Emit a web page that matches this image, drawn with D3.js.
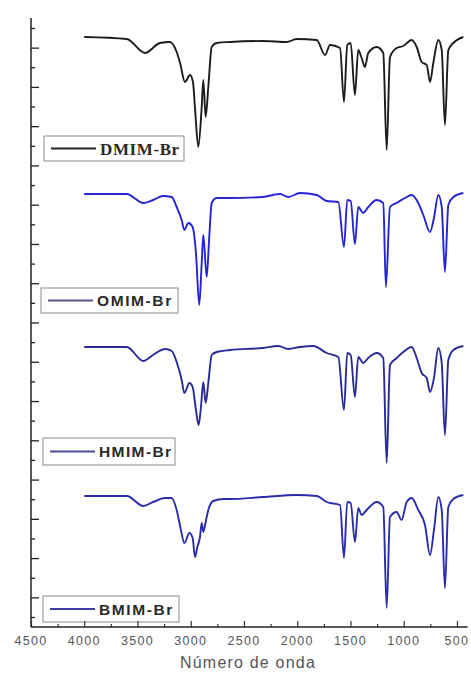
<!DOCTYPE html>
<html><head><meta charset="utf-8">
<script src="https://cdn.jsdelivr.net/npm/d3@7"></script>
<style>body{margin:0;background:#fff}svg{display:block}</style>
</head><body><div id="chart"></div>
<script>
// ---- DATA (wavenumber cm-1, transmittance a.u.) ----
const seriesNames = ["DMIM-Br", "OMIM-Br", "HMIM-Br", "BMIM-Br"];
const xTicks = [4500, 4000, 3500, 3000, 2500, 2000, 1500, 1000, 500];
const xLabel = "Número de onda";

const dmimWn = [4000,3601,3430,3289,3195,3132,3100,3054,3007,2979,2960,2929,2897,2882,2860,2835,2803,2756,2631,2319,2099,2005,1817,1739,1692,1598,1561,1530,1498,1458,1427,1395,1364,1333,1254,1192,1160,1129,1066,1004,925,878,831,784,753,722,675,643,613,581,534,440];
const dmimT  = [123,121,107,117,118,108,97,78,85,78,52,13,53,80,43,73,113,117,118,119,118,121,120,105,115,112,58,115,117,65,110,102,93,107,113,107,10,103,112,114,120,113,98,95,78,97,120,110,35,110,117,123];

const omimWn = [4000,3601,3445,3354,3260,3179,3132,3085,3060,3023,2982,2951,2920,2897,2882,2850,2826,2803,2756,2631,2322,2162,2084,1974,1817,1723,1614,1561,1530,1498,1458,1427,1380,1333,1254,1192,1167,1129,1051,988,925,863,816,753,716,675,643,613,581,534,440];
const omimT  = [116,116,107,110,114,113,103,90,80,87,83,57,5,47,75,33,73,107,112,112,113,116,113,117,115,109,108,63,110,109,66,103,97,103,110,107,23,103,108,112,115,107,95,78,92,115,103,38,105,113,117];

const hmimWn = [4000,3601,3445,3354,3242,3179,3132,3085,3060,3013,2982,2951,2926,2904,2882,2860,2835,2803,2756,2631,2322,2178,2084,1974,1849,1723,1614,1561,1530,1498,1458,1427,1380,1333,1254,1192,1160,1129,1066,1004,925,878,831,784,753,716,675,643,613,581,534,440];
const hmimT  = [123,123,109,115,121,119,108,90,77,87,83,60,45,63,88,67,87,115,118,120,122,124,121,123,124,117,113,60,117,115,73,113,107,112,117,112,7,105,112,118,123,112,97,92,78,92,122,107,35,110,120,124];

const bmimWn = [4000,3601,3445,3354,3242,3179,3132,3092,3060,3013,2982,2960,2938,2913,2897,2882,2860,2835,2788,2694,2631,2322,2005,1817,1723,1598,1561,1530,1498,1458,1427,1395,1348,1254,1192,1160,1129,1066,1020,972,925,863,800,753,716,675,643,613,581,534,440];
const bmimT  = [124,124,114,118,122,122,110,90,77,87,82,63,73,83,97,88,98,110,119,121,121,123,125,124,118,115,62,118,117,78,112,105,110,118,113,12,103,108,100,118,122,110,95,65,90,123,110,32,113,121,125];

// ---- LAYOUT / STYLE ----
const W = 471, H = 681;
const x0 = 31, x1 = 467.6, axisTop = 18, axisBottom = 627;
const panelBottoms = [160, 310, 470, 620];
const lineColors = ["#1c1c1c", "#2424d6", "#2a2a96", "#2b2bae"];
const legendLineColors = ["#222", "#55558c", "#4a4a96", "#3c3ca4"];
const legendBoxes = [
  {x:44, y:136, w:140, h:25, fam:"'Liberation Serif', 'Times New Roman', serif", fs:17, ls:0.6},
  {x:41, y:288, w:137, h:25, fam:"'Liberation Sans', Arial, sans-serif", fs:15.5, ls:1.6},
  {x:43, y:438, w:132, h:27, fam:"'Liberation Sans', Arial, sans-serif", fs:15.5, ls:1.4},
  {x:43, y:596, w:136, h:26, fam:"'Liberation Sans', Arial, sans-serif", fs:15.5, ls:1.6}
];

const svg = d3.select("#chart").append("svg").attr("width", W).attr("height", H);

const x = d3.scaleLinear().domain([4500, 400]).range([x0, x1]);

const data = [
  d3.zip(dmimWn, dmimT), d3.zip(omimWn, omimT),
  d3.zip(hmimWn, hmimT), d3.zip(bmimWn, bmimT)
];

data.forEach((pts, i) => {
  const y = d3.scaleLinear().domain([0, 130]).range([panelBottoms[i], panelBottoms[i] - 130]);
  const line = d3.line().x(d => x(d[0])).y(d => y(d[1])).curve(d3.curveMonotoneX);
  svg.append("path").datum(pts)
    .attr("d", line).attr("fill", "none")
    .attr("stroke", lineColors[i]).attr("stroke-width", 1.9)
    .attr("stroke-linejoin", "round");
});

// Legends
legendBoxes.forEach((b, i) => {
  const g = svg.append("g");
  g.append("rect").attr("x", b.x).attr("y", b.y).attr("width", b.w).attr("height", b.h)
    .attr("fill", "#fff").attr("stroke", "#8a8a8a").attr("stroke-width", 1);
  const cy = b.y + b.h / 2;
  g.append("line").attr("x1", b.x + 7).attr("x2", b.x + 52).attr("y1", cy).attr("y2", cy)
    .attr("stroke", legendLineColors[i]).attr("stroke-width", 2.2);
  g.append("text").attr("x", b.x + 56).attr("y", cy + b.fs * 0.36)
    .attr("font-family", b.fam).attr("font-size", b.fs).attr("font-weight", "bold")
    .attr("letter-spacing", b.ls).attr("fill", "#2a2a2a").text(seriesNames[i]);
});

// Y axis (no labels, alternating tick lengths)
const yAx = d3.scaleLinear().domain([0, 30]).range([617, 28]);
const yMinor = d3.range(0, 31, 2), yMajor = d3.range(1, 31, 2);
svg.append("g").attr("transform", `translate(${x0},0)`)
  .call(d3.axisRight(yAx).tickValues(yMinor).tickSize(4).tickFormat(""))
  .call(g => g.select(".domain").remove())
  .selectAll("line").attr("stroke", "#222").attr("stroke-width", 1.3);
svg.append("g").attr("transform", `translate(${x0},0)`)
  .call(d3.axisRight(yAx).tickValues(yMajor).tickSize(8).tickFormat(""))
  .call(g => g.select(".domain").remove())
  .selectAll("line").attr("stroke", "#222").attr("stroke-width", 1.3);
svg.append("line").attr("x1", x0).attr("x2", x0).attr("y1", axisTop).attr("y2", axisBottom)
  .attr("stroke", "#222").attr("stroke-width", 1.5);

// X axis
const xMinor = d3.range(4250, 400, -500);
const gx = svg.append("g").attr("transform", `translate(0,${axisBottom})`);
gx.call(d3.axisTop(x).tickValues(xTicks).tickSize(6).tickFormat(""))
  .call(g => g.select(".domain").remove())
  .selectAll("line").attr("stroke", "#333").attr("stroke-width", 1.2);
svg.append("g").attr("transform", `translate(0,${axisBottom})`)
  .call(d3.axisTop(x).tickValues(xMinor).tickSize(3).tickFormat(""))
  .call(g => g.select(".domain").remove())
  .selectAll("line").attr("stroke", "#333").attr("stroke-width", 1.2);
svg.append("line").attr("x1", x0).attr("x2", x1).attr("y1", axisBottom).attr("y2", axisBottom)
  .attr("stroke", "#222").attr("stroke-width", 1.5);

svg.append("g").selectAll("text").data(xTicks).join("text")
  .attr("x", d => x(d)).attr("y", 645)
  .attr("text-anchor", "middle")
  .attr("font-family", "'Liberation Sans', Arial, sans-serif")
  .attr("font-size", 12.5).attr("letter-spacing", 1.3).attr("fill", "#555")
  .text(d => d);

svg.append("text").attr("x", 248).attr("y", 668).attr("text-anchor", "middle")
  .attr("font-family", "'Liberation Sans', Arial, sans-serif")
  .attr("font-size", 16).attr("letter-spacing", 1.2).attr("fill", "#555")
  .text(xLabel);
</script></body></html>
